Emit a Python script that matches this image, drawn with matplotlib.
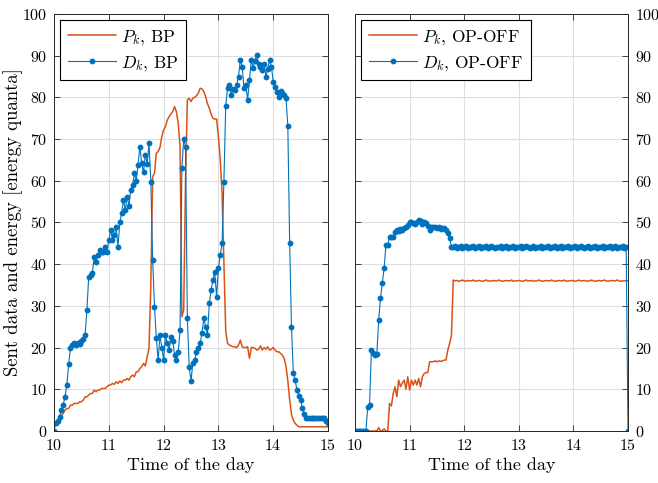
import numpy as np
import matplotlib.pyplot as plt

plt.rcParams['font.family'] = ['cmr10', 'DejaVu Serif']
plt.rcParams['mathtext.fontset'] = 'cm'
plt.rcParams['axes.formatter.use_mathtext'] = True

# samples every 2 minutes, 10:00 .. 15:00
n_samples = 151
hours = 10 + np.arange(n_samples) / 30

# BP strategy
P_bp = [1, 1.8, 2.5, 3, 3.6, 4.2, 5, 5.4, 5.4, 6.2,
        6.2, 6.6, 6.6, 6.6, 7, 7, 7.4, 8.2, 8.2, 8.6,
        9, 9, 9.8, 9.4, 9.8, 9.8, 10.2, 10.2, 10.2, 10.6,
        11, 11, 11.4, 11.2, 11.8, 11.4, 12, 11.6, 12.2, 12.2,
        12.6, 12.2, 13, 13.4, 13, 14.2, 14.2, 15, 15.4, 16.2,
        15.6, 17.8, 19.8, 35, 61, 61.8, 66.6, 67, 68, 70.6,
        72.2, 73, 74.5, 75.4, 76, 76.6, 77.8, 76.5, 73.8, 68.2,
        27.4, 29, 60, 79.4, 79.8, 79, 79.8, 80, 80.4, 81,
        82.2, 82, 81.4, 80.2, 78.5, 77.4, 76, 75, 74.8, 74.8,
        70.6, 65, 57, 40, 24, 21, 20.6, 20.4, 20.2, 20.2,
        20, 20.6, 21.8, 20.2, 20, 20, 20.2, 17.4, 20, 20,
        19.8, 19.4, 19.6, 20.4, 19.4, 20, 19.6, 20.2, 19.4, 19.6,
        20, 19.4, 19, 19, 18.6, 18.2, 17.4, 15.5, 12, 7.5,
        4, 2.6, 1.8, 1.4, 1, 1, 1, 1, 1, 1,
        1, 1, 1, 1, 1, 1, 1, 1, 1, 1, 1]
D_bp = [0, 2, 2.5, 3.4, 5, 6.2, 8.2, 11, 16, 19.9,
        20.7, 21, 20.5, 21.2, 20.8, 21.5, 22, 23, 29, 37,
        37.5, 38, 41.8, 40.6, 42.2, 43.4, 42.8, 43, 44, 43,
        45.8, 48.2, 45.8, 47, 49, 44.2, 50, 52.2, 55.4, 53,
        56.2, 54, 57.8, 59, 61.8, 60, 63.8, 68.2, 64.2, 62,
        66.2, 64, 69, 59.8, 41, 29.8, 22.4, 17, 23, 20,
        17, 23, 21, 19.4, 22.6, 21.6, 18.2, 17, 19, 24.2,
        63, 70, 68, 27, 15.4, 12, 16.3, 17, 19, 20,
        21, 23.5, 27, 25, 23, 30.6, 33.8, 36.2, 38.2, 32.2,
        39, 42.2, 45, 59.8, 78, 82.2, 83, 80.6, 82, 81.8,
        83, 85, 89, 87.4, 82.2, 83, 79.4, 84.2, 89, 87,
        88.6, 90.2, 88, 87.4, 86.6, 88, 85, 86.8, 89, 87.4,
        83.8, 82.5, 81.4, 80.2, 81.5, 81, 80.5, 79.8, 73.1, 45,
        25, 14, 12.2, 9.8, 8.5, 7.4, 5.5, 4, 3, 3,
        3, 3, 3, 3, 3, 3, 3, 3, 3, 2.5, 2]

# OP-OFF strategy
P_off = [0, 0, 0, 0, 0, 0, 0, 0, 0, 0,
         0, 0, 0, 0.8, 0, 0, 0.5, 0, 0, 6.6,
         6, 9, 10.6, 8.2, 12.2, 10.6, 11.5, 12.2, 10, 13,
         9.8, 12.2, 11, 12.2, 11, 12.6, 10.6, 13, 13.8, 14,
         14, 16.6, 16.6, 16.6, 16.8, 16.6, 16.8, 16.7, 16.8, 17,
         17, 19.4, 21, 23, 36.2, 36, 36.1, 35.9, 36, 36.2,
         36, 35.9, 36.1, 36, 36, 36.2, 35.9, 36, 36.1, 36,
         35.9, 36, 36.2, 36, 36, 35.9, 36.1, 36, 36, 36.2,
         36, 35.9, 36, 36.1, 36, 36, 36.2, 35.9, 36, 36,
         36.1, 36, 35.9, 36, 36.2, 36, 36, 36.1, 35.9, 36,
         36, 36.2, 36, 35.9, 36, 36.1, 36, 36, 36.2, 36,
         35.9, 36, 36.1, 36, 36, 36.2, 35.9, 36, 36, 36.1,
         36, 35.9, 36, 36.2, 36, 36, 36.1, 35.9, 36, 36,
         36.2, 36, 35.9, 36, 36.1, 36, 36, 36.2, 36, 35.9,
         36, 36.1, 36, 36, 36.2, 36, 35.9, 36, 36, 36.1, 36]
D_off = [0, 0, 0, 0, 0, 0, 0, 5.8, 6.2, 19.4,
         18.6, 18.2, 18.4, 26.6, 31.8, 35.4, 39, 44.6, 44.6, 46.6,
         46.4, 46.6, 47.8, 48.2, 48, 48.4, 48.2, 48.6, 49, 49.4,
         50.2, 50, 49.8, 49.6, 50.2, 50.6, 50.4, 49.6, 50, 49.8,
         49.2, 48.2, 49, 48.8, 49, 48.6, 48.8, 48.4, 48.6, 48.6,
         48.2, 47.4, 46.2, 44.2, 44, 44.3, 43.8, 44.2, 44.4, 43.9,
         44.1, 44.3, 43.8, 44.2, 44, 44.4, 43.9, 44.1, 44.3, 43.8,
         44, 44.2, 44.4, 43.9, 44, 44.3, 44.1, 43.8, 44.2, 44,
         44.4, 43.9, 44.1, 44.3, 43.8, 44, 44.2, 44.4, 43.9, 44.1,
         44, 44.3, 43.8, 44.2, 44.4, 44, 43.9, 44.1, 44.3, 43.8,
         44, 44.2, 44.4, 43.9, 44.1, 44, 44.3, 43.8, 44.2, 44,
         44.4, 43.9, 44.1, 44.3, 43.8, 44, 44.2, 44.4, 43.9, 44.1,
         44, 44.3, 43.8, 44.2, 44.4, 44, 43.9, 44.1, 44.3, 43.8,
         44, 44.2, 44.4, 43.9, 44.1, 44, 44.3, 43.8, 44.2, 44,
         44.4, 43.9, 44.1, 44.3, 43.8, 44, 44.2, 44.4, 43.9, 44.1, 0]

x_ticks = [10, 11, 12, 13, 14, 15]
y_ticks = list(range(0, 101, 10))

c_p = '#D95319'
c_d = '#0072BD'
axis_col = '#262626'

fig = plt.figure(figsize=(6.58, 4.83), dpi=100)
ax1 = fig.add_axes([0.0821, 0.1077, 0.4164, 0.8634])
ax2 = fig.add_axes([0.5395, 0.1077, 0.4149, 0.8634])

panels = [(ax1, P_bp, D_bp, 'BP'), (ax2, P_off, D_off, 'OP-OFF')]
for ax, p, d, name in panels:
    ax.plot(hours, p, color=c_p, lw=1.1, label=r'$P_k$, ' + name)
    ax.plot(hours, d, color=c_d, lw=0.8, marker='o', ms=4.2, mew=0,
            label=r'$D_k$, ' + name)
    ax.set_xlim(10, 15)
    ax.set_ylim(0, 100)
    ax.set_xticks(x_ticks)
    ax.set_yticks(y_ticks)
    ax.grid(True, color='#dedede', lw=0.8)
    ax.set_axisbelow(True)
    for s in ax.spines.values():
        s.set_color(axis_col)
        s.set_linewidth(0.7)
    ax.tick_params(direction='in', top=True, right=True, left=True,
                   length=4, width=0.6, color=axis_col,
                   labelsize=11.5, labelcolor='black', pad=5)
    ax.set_xlabel('Time of the day', fontsize=13, labelpad=3)
    leg = ax.legend(loc='upper left', fontsize=12.5, fancybox=False,
                    edgecolor='black', framealpha=1, borderpad=0.45,
                    handlelength=2.75, handletextpad=0.3, labelspacing=0.4,
                    borderaxespad=0.35)
    leg.get_frame().set_linewidth(0.8)

ax1.set_ylabel('Sent data and energy [energy quanta]', fontsize=13.5)
ax1.yaxis.set_label_coords(-0.115, 0.5)
ax2.tick_params(labelleft=False, labelright=True)

fig.savefig('out.png', dpi=100)
